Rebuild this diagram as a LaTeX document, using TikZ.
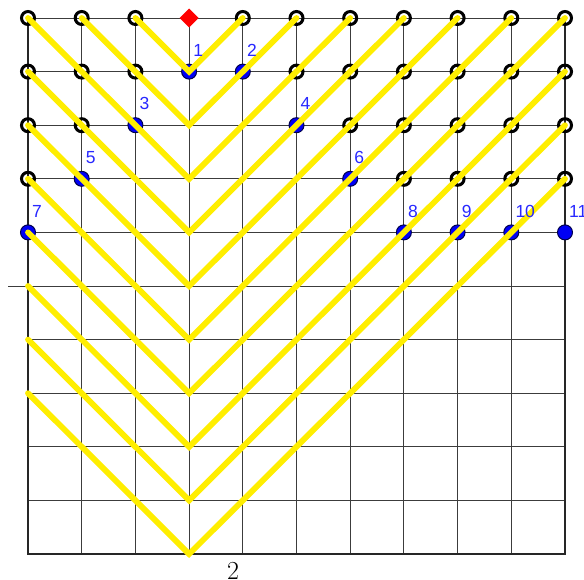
\documentclass[tikz,border=0pt]{standalone}
\usepackage{fontspec}
\newfontfamily\labfont{Liberation Sans}
\usetikzlibrary{shapes.geometric}
\definecolor{ray}{RGB}{255,238,0}
\definecolor{lblue}{RGB}{40,40,255}
\definecolor{pblue}{RGB}{0,0,245}
\definecolor{gridc}{RGB}{60,60,60}
\tikzset{
  gridline/.style={draw=gridc, line width=0.9pt},
  borderline/.style={draw=black!85, line width=1.6pt},
  ring/.style={circle, draw=black, line width=3pt, minimum size=13pt, inner sep=0pt},
  bluept/.style={circle, draw=black!70!blue, fill=pblue, line width=1pt, minimum size=15pt, inner sep=0pt},
  rayline/.style={draw=ray, line width=5.8pt, line cap=round, line join=miter},
  redmark/.style={diamond, fill=red, minimum width=19pt, minimum height=19pt, inner sep=0pt},
  lbl/.style={text=lblue, font=\labfont\fontsize{17.5}{18}\selectfont, inner sep=0pt, anchor=south west},
}
\begin{document}
\begin{tikzpicture}[x=1pt,y=-1pt]
\useasboundingbox (0,0) rectangle (584,580);
\fill[white] (0,0) rectangle (584,580);
\begin{scope}[shift={(28,18)},x=53.7pt,y=-53.6pt]
  % named grid intersections
  \foreach \i in {0,...,10}{
    \foreach \j in {0,...,10}{
      \coordinate (g-\i-\j) at (\i,\j);
    }
  }
  \coordinate (axisstub) at (-0.37,5);
  % grid
  \foreach \i in {1,...,9}{ \draw[gridline] (g-\i-0) -- (g-\i-10); }
  \foreach \j in {0,...,9}{ \draw[gridline] (g-0-\j) -- (g-10-\j); }
  \draw[gridline] (axisstub) -- (g-0-5);
  \draw[borderline] (g-0-0) -- (g-0-10) -- (g-10-10) -- (g-10-0);
  % black ring points
  \foreach \i/\j in {0/0,1/0,2/0,4/0,5/0,6/0,7/0,8/0,9/0,10/0,
                     0/1,1/1,2/1,5/1,6/1,7/1,8/1,9/1,10/1,
                     0/2,1/2,6/2,7/2,8/2,9/2,10/2,
                     0/3,7/3,8/3,9/3,10/3}{
    \node[ring] (r-\i-\j) at (g-\i-\j) {};
  }
  % blue points
  \foreach \i/\j/\n in {3/1/1,4/1/2,2/2/3,5/2/4,1/3/5,6/3/6,0/4/7,7/4/8,8/4/9,9/4/10,10/4/11}{
    \node[bluept] (b\n) at (g-\i-\j) {};
  }
  % yellow rays
  \draw[rayline] (g-2-0) -- (g-3-1) -- (g-4-0);
  \draw[rayline] (g-1-0) -- (g-3-2) -- (g-5-0);
  \draw[rayline] (g-0-0) -- (g-3-3) -- (g-6-0);
  \draw[rayline] (g-0-1) -- (g-3-4) -- (g-7-0);
  \draw[rayline] (g-0-2) -- (g-3-5) -- (g-8-0);
  \draw[rayline] (g-0-3) -- (g-3-6) -- (g-9-0);
  \draw[rayline] (g-0-4) -- (g-3-7) -- (g-10-0);
  \draw[rayline] (g-0-5) -- (g-3-8) -- (g-10-1);
  \draw[rayline] (g-0-6) -- (g-3-9) -- (g-10-2);
  \draw[rayline] (g-0-7) -- (g-3-10) -- (g-10-3);
  % red source
  \node[redmark] (src) at (g-3-0) {};
  % labels
  \foreach \n in {1,...,11}{
    \node[lbl] (t\n) at ([shift={(4pt,15pt)}]b\n.center) {\n};
  }
\end{scope}
\node[font=\fontsize{26}{26}\selectfont, inner sep=0pt, anchor=north] (axl) at (233,562) {2};
\end{tikzpicture}
\end{document}
